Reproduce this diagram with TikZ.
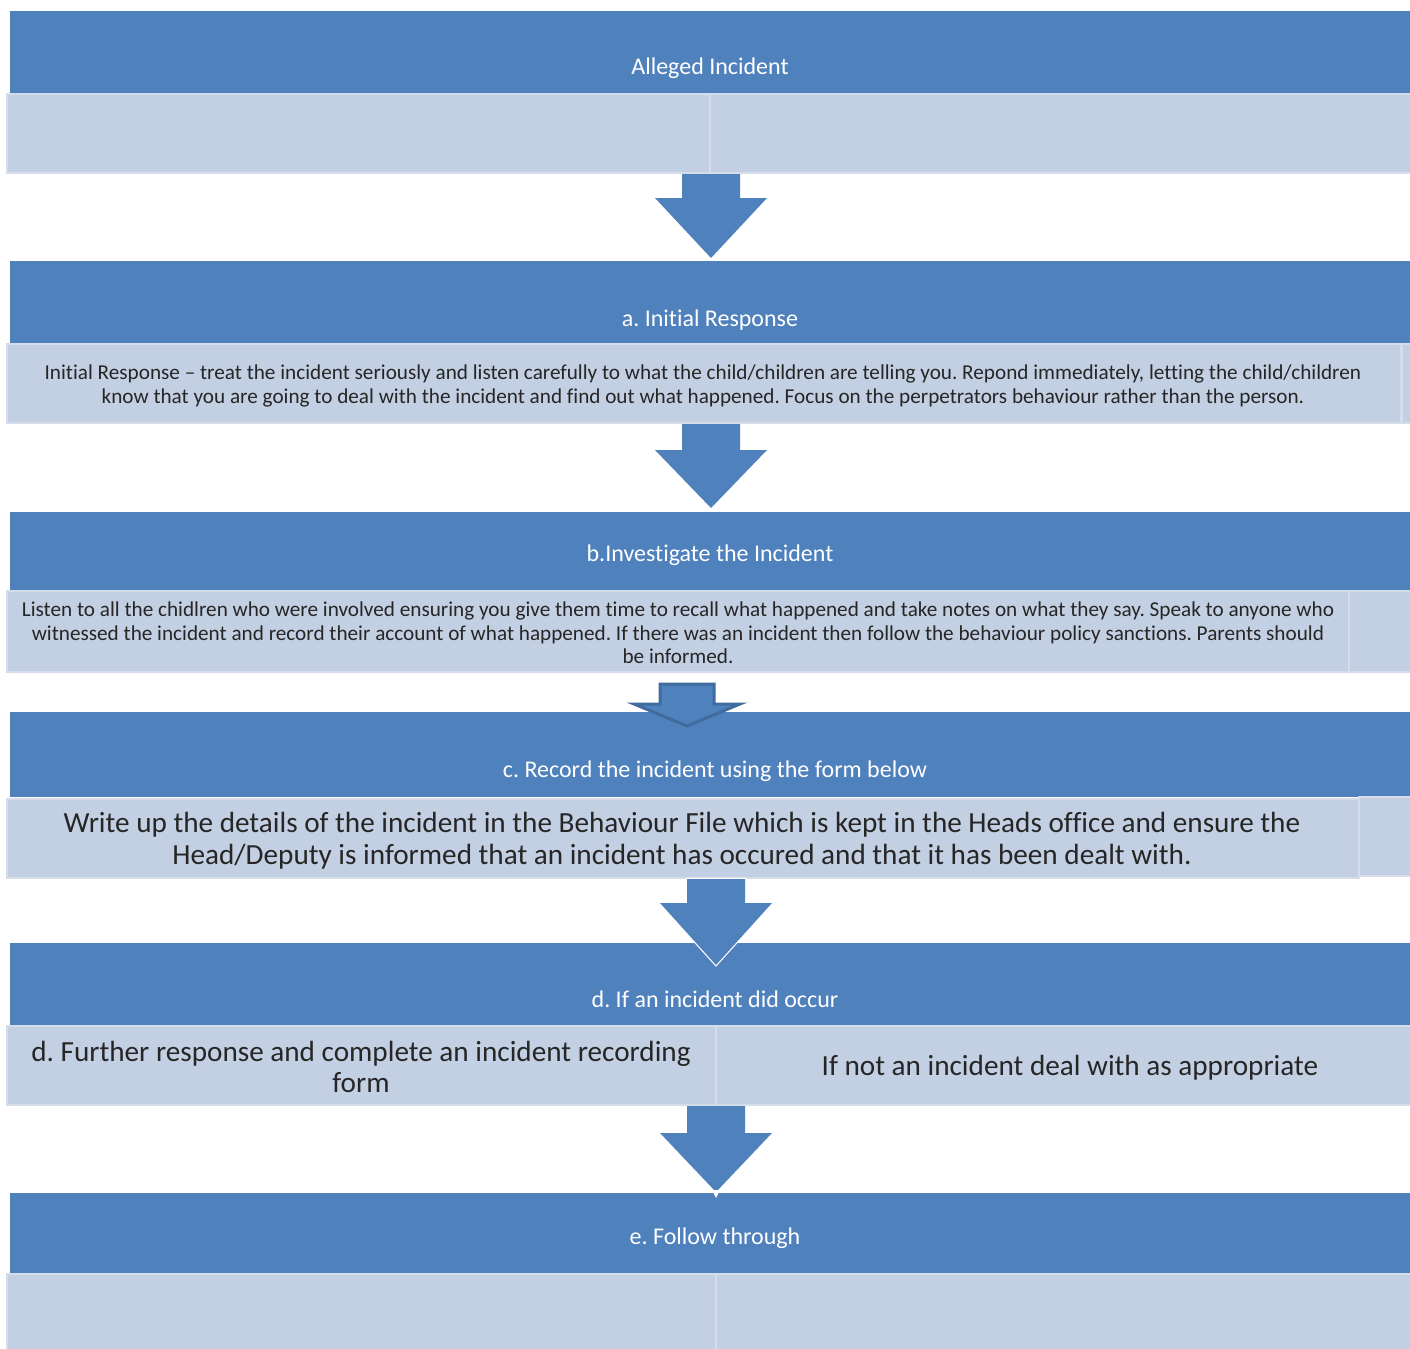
\documentclass[tikz,border=0pt]{standalone}
\usepackage{fontspec}
\setmainfont{Carlito}[Ligatures=NoCommon]
\usetikzlibrary{fit,calc}
\definecolor{hdrblue}{HTML}{4F81BD}
\definecolor{bodyblue}{HTML}{C3CFE2}
\definecolor{edgeblue}{HTML}{D5DDEB}
\definecolor{outlineblue}{HTML}{3F6C9C}
\tikzset{
 hdr/.style={fill=hdrblue, draw=none, inner sep=0pt},
 cell/.style={fill=bodyblue, draw=edgeblue, line width=1pt, inner sep=0pt},
 titletext/.style={text=white, font=\fontsize{12}{14}\selectfont, anchor=base, inner sep=0pt},
 smalltext/.style={font=\fontsize{10.6}{11.8}\selectfont, align=center, inner sep=0pt, text=black!85},
 largetext/.style={font=\fontsize{14.6}{15.8}\selectfont, align=center, inner sep=0pt, text=black!85},
 arrowfill/.style={fill=hdrblue},
}
% x centre, shaft top, neck, tip, extra style (all in px)
\newcommand\blkarrow[5]{%
 \path[arrowfill,#5] (#1-29,#2) -- (#1+29,#2) -- (#1+29,#3) -- (#1+56,#3) -- (#1,#4)
   -- (#1-56,#3) -- (#1-29,#3) -- cycle;}
\begin{document}
\frenchspacing
\begin{tikzpicture}[x=0.5pt,y=-0.5pt]
\useasboundingbox[fill=white] (0,0) rectangle (1410,1349);

% ---- block 1
\node[hdr, fit={(10,11) (1410,93)}] (h1) {};
\node[titletext] (t1) at (710,75) {Alleged Incident};
\node[cell, fit={(7,94) (710,173)}] (b1l) {};
\node[cell, fit={(710,94) (1412,173)}] (b1r) {};

% ---- block 2
\node[hdr, fit={(10,261) (1410,343)}] (h2) {};
\node[titletext] (t2) at (710,326) {a. Initial Response};
\node[cell, fit={(7,344) (1401,423)}] (b2l) {};
\node[cell, fit={(1402,344) (1412,423)}] (b2r) {};
\node[smalltext] (x2) at (703,386) {Initial Response -- treat the incident seriously and listen carefully to what the child/children are telling you. Repond immediately, letting the child/children\\know that you are going to deal with the incident and find out what happened. Focus on the perpetrators behaviour rather than the person.};

% ---- block 3
\node[hdr, fit={(10,512) (1410,590)}] (h3) {};
\node[titletext] (t3) at (710,561) {b.Investigate the Incident};
\node[cell, fit={(7,591) (1349,672)}] (b3l) {};
\node[cell, fit={(1349,591) (1412,672)}] (b3r) {};
\node[smalltext] (x3) at (678,633) {Listen to all the chidlren who were involved ensuring you give them time to recall what happened and take notes on what they say. Speak to anyone who\\witnessed the incident and record their account of what happened. If there was an incident then follow the behaviour policy sanctions. Parents should\\be informed.};

% ---- block 4
\node[hdr, fit={(10,712) (1410,797)}] (h4) {};
\node[titletext] (t4) at (715,777) {c. Record the incident using the form below};
\node[cell, fit={(1359,797) (1412,876)}] (b4r) {};
\node[cell, fit={(7,799) (1359,878)}] (b4l) {};
\node[largetext] (x4) at (682,841) {Write up the details of the incident in the Behaviour File which is kept in the Heads office and ensure the\\Head/Deputy is informed that an incident has occured and that it has been dealt with.};

% ---- block 5
\node[hdr, fit={(10,943) (1410,1025)}] (h5) {};
\node[titletext] (t5) at (715,1007) {d. If an incident did occur};
\node[cell, fit={(7,1026) (716,1105)}] (b5l) {};
\node[cell, fit={(716,1026) (1412,1105)}] (b5r) {};
\node[largetext] (x5l) at (361,1067) {d. Further response and complete an incident recording\\form};
\node[largetext] (x5r) at (1070,1068) {If not an incident deal with as appropriate};

% ---- block 6
\node[hdr, fit={(10,1193) (1410,1273)}] (h6) {};
\node[titletext] (t6) at (715,1244) {e. Follow through};
\node[cell, fit={(7,1274) (716,1352)}] (b6l) {};
\node[cell, fit={(716,1274) (1412,1352)}] (b6r) {};

% ---- arrows
\blkarrow{711}{174}{198}{258}{}
\blkarrow{711}{424}{450}{508}{}
\path[fill=hdrblue, draw=outlineblue, line width=1.5pt, line join=miter]
  (660,684) -- (714,684) -- (714,704) -- (740,704) -- (687,726) -- (634,704) -- (660,704) -- cycle;
\blkarrow{716}{879}{903}{965}{draw=white, line width=1.2pt}
\blkarrow{716}{879}{903}{965}{}
\blkarrow{716}{1106}{1133}{1192}{}
\path[fill=white] (712,1190) -- (720,1190) -- (716,1198) -- cycle;
\end{tikzpicture}
\end{document}
